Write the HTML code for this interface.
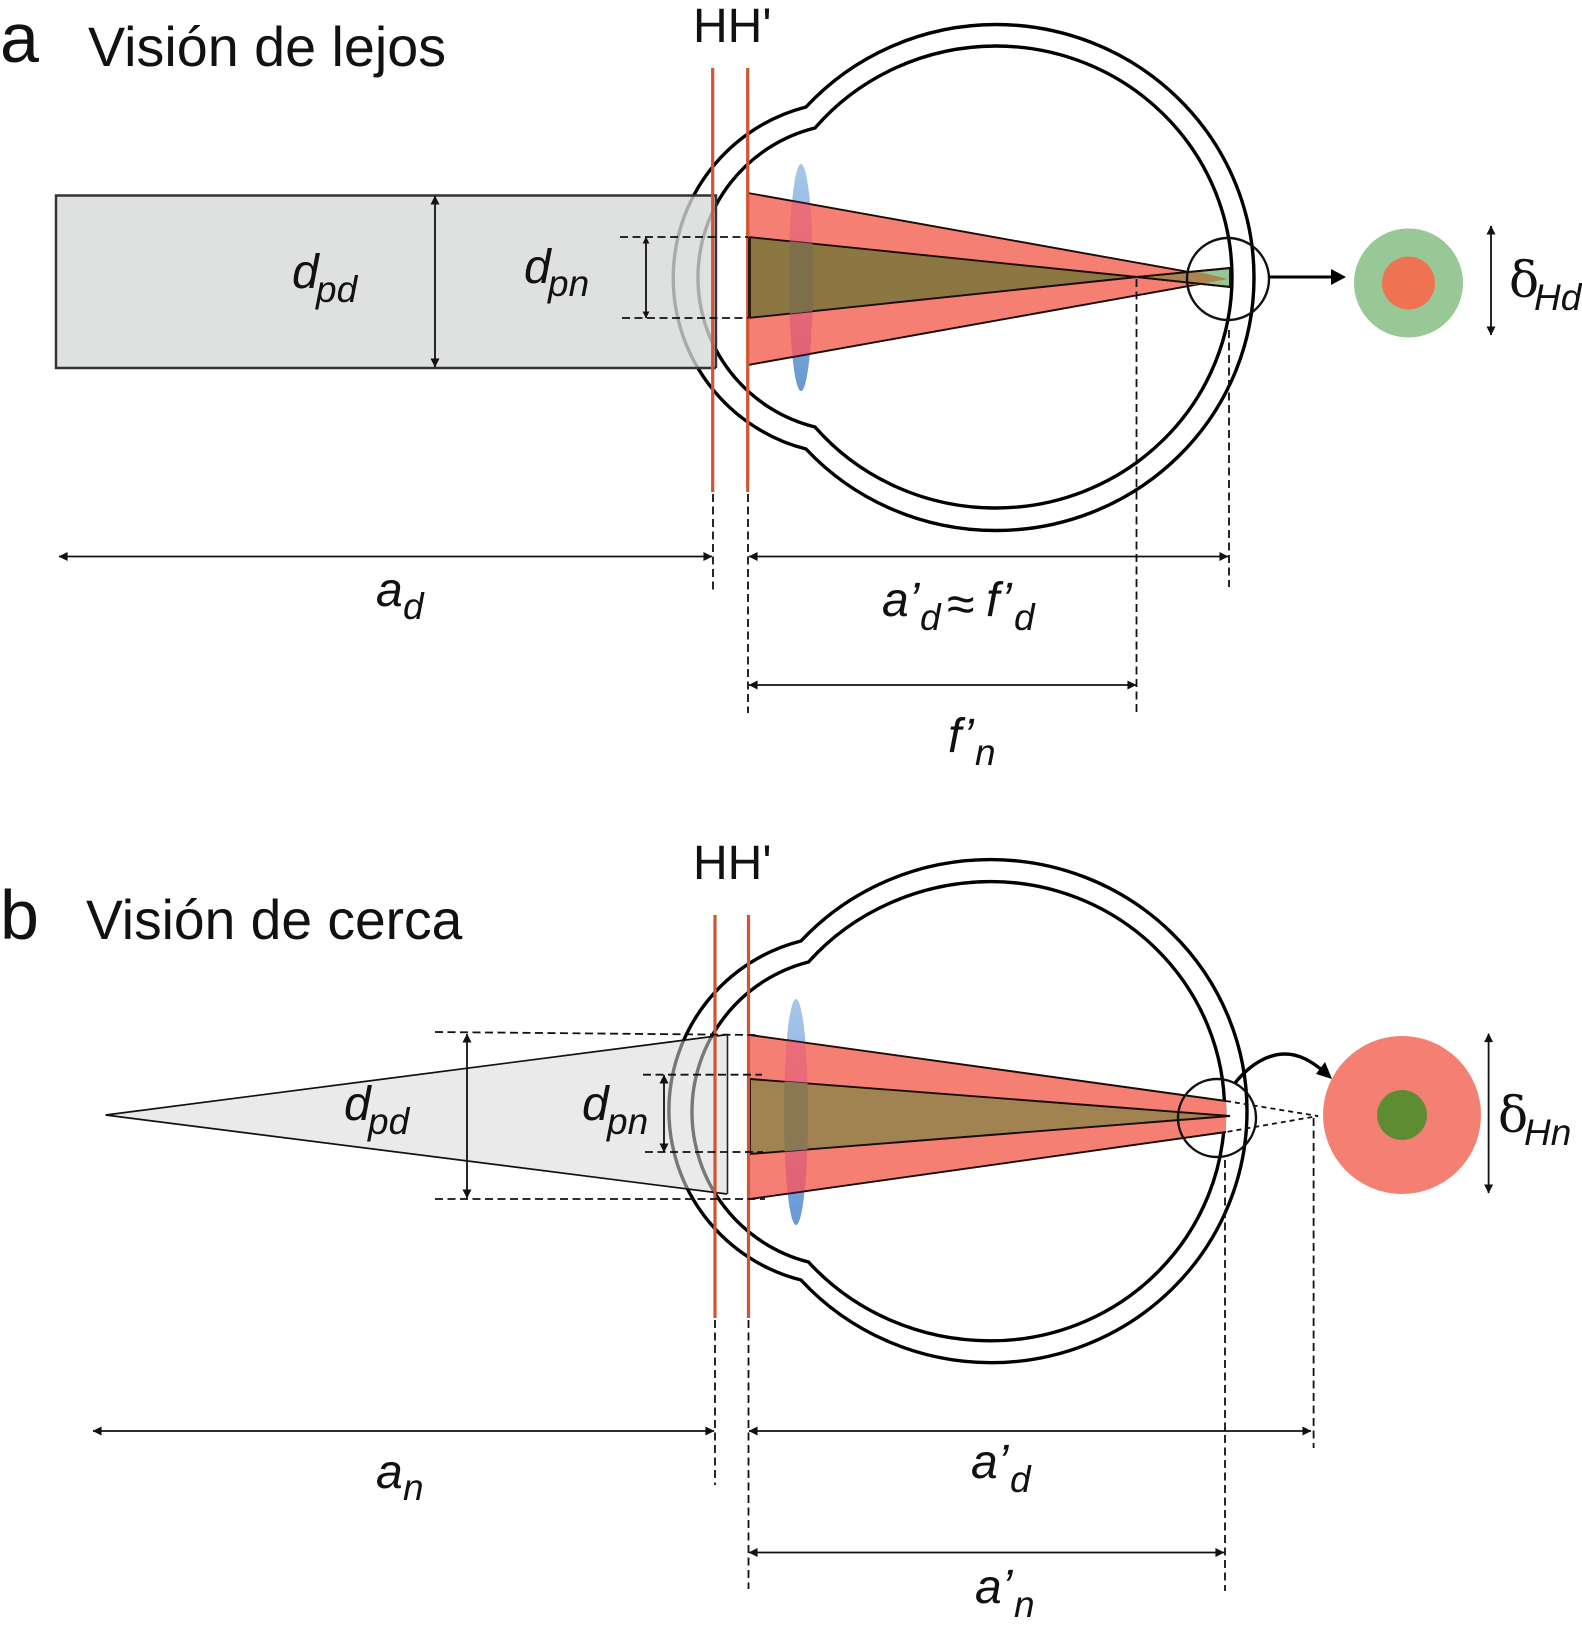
<!DOCTYPE html>
<html><head><meta charset="utf-8">
<style>
html,body{margin:0;padding:0;background:#fff}
svg{display:block}
text{font-family:"Liberation Sans",sans-serif;fill:#111}
.i{font-style:italic}
.m{font-size:48px}
.s{font-size:37px}
.e{fill:none;stroke:#000;stroke-width:3.4}
.r{stroke:#cf5535;stroke-width:3.2;fill:none}
.d{stroke:#111;stroke-width:1.8;stroke-dasharray:8 4.500;fill:none}
.a{stroke:#111;stroke-width:1.8;fill:none}
.c{stroke:#1a0c08;stroke-width:1.900}
</style></head><body>
<svg width="1582" height="1628" viewBox="0 0 1582 1628" xmlns="http://www.w3.org/2000/svg">
<defs>
<marker id="h" viewBox="0 0 10 10" refX="9.500" refY="5" markerWidth="10" markerHeight="9" markerUnits="userSpaceOnUse" orient="auto-start-reverse"><path d="M0 0L10 5L0 10z" fill="#111"/></marker>
<marker id="hs" viewBox="0 0 10 10" refX="9.500" refY="5" markerWidth="7" markerHeight="7" markerUnits="userSpaceOnUse" orient="auto-start-reverse"><path d="M0 0L10 5L0 10z" fill="#111"/></marker>
<linearGradient id="lg" x1="0" y1="0" x2="0" y2="1"><stop offset="0" stop-color="#a8c6ea"/><stop offset="1" stop-color="#6799d2"/></linearGradient>
<linearGradient id="lr" x1="0" y1="0" x2="0" y2="1"><stop offset="0" stop-color="rgb(223,77,140)"/><stop offset="1" stop-color="rgb(170,27,133)"/></linearGradient>
<clipPath id="ca1"><path d="M748 193L1228 279L748 365z"/></clipPath>
<clipPath id="ca2"><path d="M748 237L1137 277L748 318z"/></clipPath>
<clipPath id="cb1"><path d="M750 1035L1226 1101V1132L750 1199z"/></clipPath>
<clipPath id="cb2"><path d="M750 1079L1230 1116L750 1154z"/></clipPath>
</defs>

<!-- PANEL A -->
<text x="0" y="62" font-size="70">a</text>
<text x="88" y="66" font-size="55.700">Visión de lejos</text>
<text x="693" y="42" font-size="48">HH'</text>

<!-- eye a -->
<path class="e" d="M806 107A257.800 253 0 0 1 996 24.500A258 253 0 0 1 1254 277.500A258 253 0 0 1 996 530.500A257.800 253 0 0 1 806 449A176.500 176.500 0 0 1 806 107z"/>
<path class="e" d="M815 128A237.400 231 0 0 1 996 46A236 231 0 0 1 1232 277A236 231 0 0 1 996 508A237.400 231 0 0 1 815 427A154 154 0 0 1 815 128z"/>

<!-- gray rectangle -->
<rect x="56" y="195.500" width="660" height="172.500" fill="#d7d8d8" fill-opacity=".79"/>
<path d="M716 368H56V195.500H716V368" fill="none" stroke="#333" stroke-width="2.400"/>

<!-- lens a -->
<ellipse cx="801" cy="277.500" rx="12" ry="113.500" fill="url(#lg)"/>
<!-- cones a -->
<path d="M748 193L1228 279L748 365z" fill="#f47f72" class="c"/>
<path d="M1137 277L1230 268V287z" fill="#93c896" class="c"/>
<path d="M1137 277L1195 271L1228 279L1195 285z" fill="#a98550"/>
<path d="M748 237L1137 277L748 318z" fill="#8c7642" class="c"/>
<ellipse cx="801" cy="277.500" rx="12" ry="113.500" fill="url(#lr)" fill-opacity=".3" clip-path="url(#ca1)"/>
<ellipse cx="801" cy="277.500" rx="12" ry="113.500" fill="#8c7642" clip-path="url(#ca2)"/>
<ellipse cx="801" cy="277.500" rx="12" ry="113.500" fill="#5a5f5a" fill-opacity=".3" clip-path="url(#ca2)"/>
<path d="M1137 277L1230 287M1137 277L1230 268" class="c" fill="none"/>

<!-- red lines a -->
<path class="r" d="M712.700 68V492M747.700 68V492"/>
<path d="M749.500 237V318" stroke="#2a1a10" stroke-width="3"/>

<!-- a dashes & arrows -->
<path class="d" d="M620 237H748M622 318H748"/>
<path class="a" d="M435 196V367" marker-start="url(#h)" marker-end="url(#h)" stroke-width="2.200"/>
<path class="a" d="M646 237V318" marker-start="url(#hs)" marker-end="url(#hs)"/>
<path class="d" d="M713 494V594M748 494V713M1229 330V587M1136.500 279V712"/>
<path class="a" d="M59 556.500H712" marker-start="url(#h)" marker-end="url(#h)"/>
<path class="a" d="M749 556.500H1228" marker-start="url(#h)" marker-end="url(#h)"/>
<path class="a" d="M749 685H1136" marker-start="url(#h)" marker-end="url(#h)"/>

<!-- focus circle a -->
<circle cx="1228" cy="279" r="41" fill="none" stroke="#111" stroke-width="2.400"/>
<path d="M1269 277H1334" stroke="#000" stroke-width="3"/>
<path d="M1331 269L1346 277L1331 285z" fill="#000"/>
<circle cx="1408.500" cy="283" r="54.500" fill="#98c896"/>
<circle cx="1408.500" cy="283" r="26.500" fill="#ee7353"/>
<path class="a" d="M1491 226V335" marker-start="url(#h)" marker-end="url(#h)"/>

<!-- labels a -->
<text class="i m" x="292" y="288">d</text><text class="i s" x="316" y="302">pd</text>
<text class="i m" x="524" y="283">d</text><text class="i s" x="548" y="296">pn</text>
<text class="i m" x="376" y="606">a</text><text class="i s" x="403" y="619">d</text>
<text class="i m" x="882" y="616">a’</text><text class="i s" x="920" y="630">d</text>
<text x="947" y="621" font-size="50">≈</text>
<text class="i m" x="986" y="616">f’</text><text class="i s" x="1014" y="630">d</text>
<text class="i m" x="948" y="752">f’</text><text class="i s" x="975" y="765">n</text>
<text x="1509" y="297" font-size="50" style="font-family:'DejaVu Serif','Liberation Serif',serif">δ</text>
<text class="i s" x="1534" y="310">Hd</text>

<!-- PANEL B -->
<text x="0" y="939" font-size="70">b</text>
<text x="86" y="939" font-size="55.200">Visión de cerca</text>
<text x="693" y="879" font-size="48">HH'</text>

<!-- eye b -->
<path class="e" d="M801 941A257 251.500 0 0 1 991 859.600A256 251.500 0 0 1 1247 1111A256 251.500 0 0 1 991 1362.700A257 251.500 0 0 1 801 1280A174.800 174.800 0 0 1 801 941z"/>
<path class="e" d="M808.500 962A241 229.600 0 0 1 991 881.600A233.600 229.600 0 0 1 1224.600 1111A233.600 229.600 0 0 1 991 1340.800A241 229.600 0 0 1 808.500 1262A154.800 154.800 0 0 1 808.500 962z"/>

<!-- triangle -->
<path d="M105.600 1115L727 1034.600V1194z" fill="#d8d8d8" fill-opacity=".55"/>
<path d="M727 1194L105.600 1115L727 1034.600" fill="none" stroke="#111" stroke-width="1.700"/>
<path d="M727.500 1034.600V1194" stroke="#222" stroke-width="1.600"/>

<!-- lens b -->
<ellipse cx="796" cy="1112" rx="12" ry="113" fill="url(#lg)"/>
<path d="M750 1035L1226 1101V1132L750 1199z" fill="#f47f72"/>
<path d="M750 1035L1226 1101M750 1199L1226 1132" class="c" fill="none"/>
<path d="M750 1079L1230 1116L750 1154z" fill="#a08350" class="c"/>
<ellipse cx="796" cy="1112" rx="12" ry="113" fill="url(#lr)" fill-opacity=".3" clip-path="url(#cb1)"/>
<ellipse cx="796" cy="1112" rx="12" ry="113" fill="#a08350" clip-path="url(#cb2)"/>
<ellipse cx="796" cy="1112" rx="12" ry="113" fill="#5a5f5a" fill-opacity=".3" clip-path="url(#cb2)"/>

<!-- red lines b -->
<path class="r" d="M715 915V1318M748.500 915V1318"/>

<!-- b dashes & arrows -->
<path class="d" d="M435 1032L758 1035M435 1199H765M643 1074.700H762M645 1152H763"/>
<path class="a" d="M467 1034V1198" marker-start="url(#h)" marker-end="url(#h)" stroke-width="2.200"/>
<path class="a" d="M664 1075V1152" marker-start="url(#h)" marker-end="url(#h)" stroke-width="2.200"/>
<path d="M1226 1101L1318 1116L1226 1132" fill="none" stroke="#111" stroke-width="1.800" stroke-dasharray="5 4"/>
<path class="d" d="M715 1320V1485M748.500 1320V1589M1313.600 1118V1448M1225 1160V1591"/>
<path class="a" d="M93 1431H714" marker-start="url(#h)" marker-end="url(#h)" stroke-width="2.200"/>
<path class="a" d="M749 1431H1311" marker-start="url(#h)" marker-end="url(#h)"/>
<path class="a" d="M749 1552.500H1224" marker-start="url(#h)" marker-end="url(#h)"/>

<!-- focus circle b -->
<circle cx="1217" cy="1118" r="39" fill="none" stroke="#111" stroke-width="2.400"/>
<path d="M1235 1083C1252 1062 1270 1054 1285 1054C1300 1054 1312 1062 1322 1070" fill="none" stroke="#000" stroke-width="3.400"/>
<path d="M1332 1079L1316 1074L1325 1062z" fill="#000"/>
<circle cx="1402" cy="1115" r="79" fill="#f38073"/>
<circle cx="1402" cy="1115" r="25" fill="#5d8c33"/>
<path class="a" d="M1488.600 1033.600V1193" marker-start="url(#h)" marker-end="url(#h)"/>

<!-- labels b -->
<text class="i m" x="344" y="1120">d</text><text class="i s" x="368" y="1134">pd</text>
<text class="i m" x="582" y="1120">d</text><text class="i s" x="607" y="1134">pn</text>
<text class="i m" x="376" y="1488">a</text><text class="i s" x="403" y="1500">n</text>
<text class="i m" x="971" y="1478">a’</text><text class="i s" x="1010" y="1492">d</text>
<text class="i m" x="975" y="1603">a’</text><text class="i s" x="1014" y="1617">n</text>
<text x="1498" y="1132" font-size="50" style="font-family:'DejaVu Serif','Liberation Serif',serif">δ</text>
<text class="i s" x="1524" y="1145">Hn</text>
</svg>
</body></html>
